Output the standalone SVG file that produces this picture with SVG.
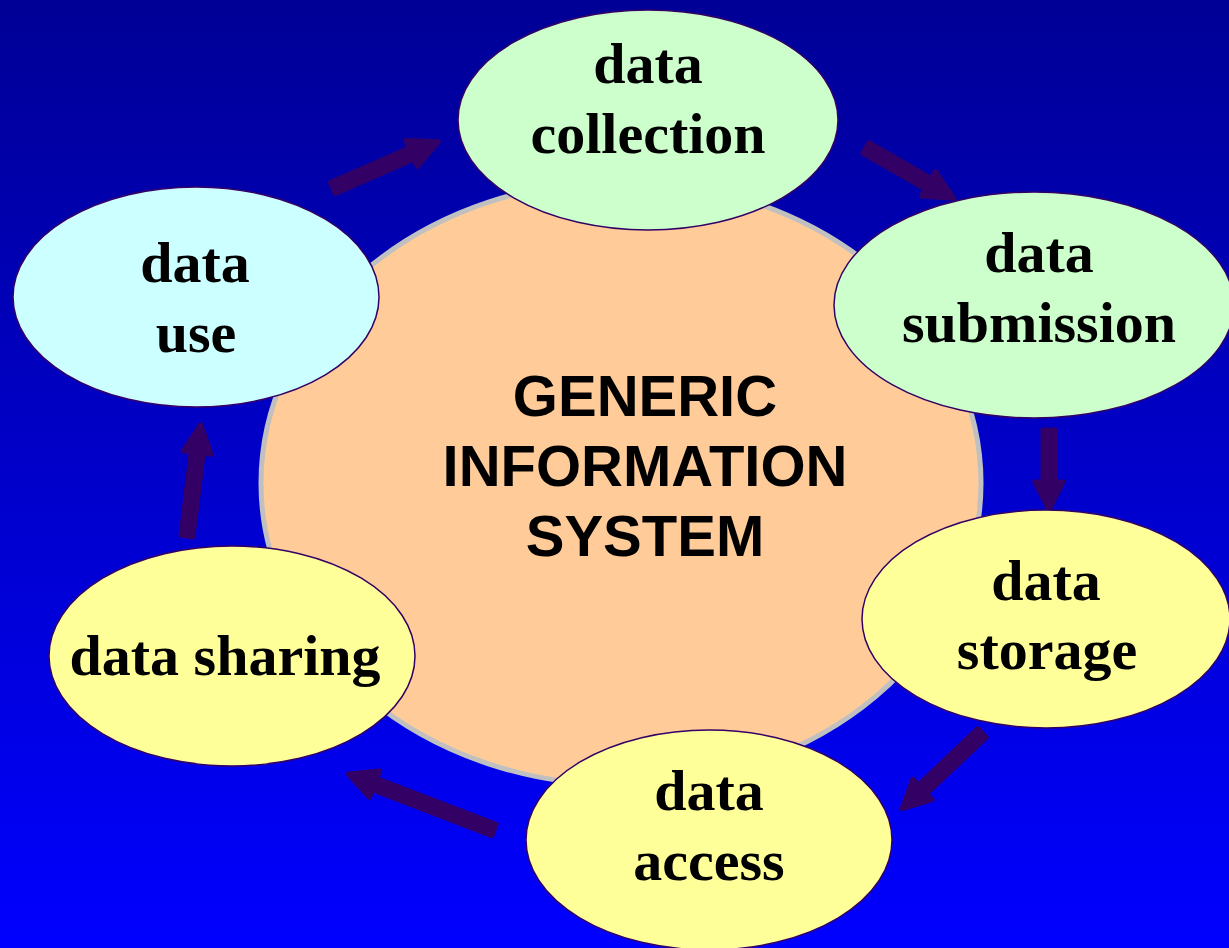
<svg xmlns="http://www.w3.org/2000/svg" width="1229" height="948" viewBox="0 0 1229 948">
  <defs>
    <linearGradient id="bg" x1="0" y1="0" x2="0" y2="1">
      <stop offset="0" stop-color="#000096"/>
      <stop offset="1" stop-color="#0000FF"/>
    </linearGradient>
    <style>
      .node { stroke: #330066; stroke-width: 1.5; }
      .green { fill: #CCFFCC; }
      .yellow { fill: #FFFF99; }
      .cyan { fill: #CCFFFF; }
      .lbl { font-family: "Liberation Serif", "Times New Roman", serif; font-weight: bold; font-size: 58px; fill: #000000; text-anchor: middle; }
      .title { font-family: "Liberation Sans", Arial, sans-serif; font-weight: bold; font-size: 58px; fill: #000000; text-anchor: middle; }
      .arrow { fill: #330066; stroke: #330066; stroke-width: 5; stroke-linejoin: round; }
    </style>
  </defs>

  <rect x="0" y="0" width="1229" height="948" fill="url(#bg)"/>

  <!-- central system -->
  <g id="system">
    <ellipse cx="621" cy="483" rx="360" ry="302" fill="#FFCC99" stroke="#C0C0C0" stroke-width="5"/>
    <text class="title" x="645" y="416">GENERIC</text>
    <text class="title" x="645" y="486">INFORMATION</text>
    <text class="title" x="645" y="556">SYSTEM</text>
  </g>

  <!-- cycle arrows: local frame has tail at x=0 and tip at x=L -->
  <g id="connectors">
    <path class="arrow" transform="translate(333,188) rotate(-23.7)" d="M0,-6 L86,-6 L86,-14 L115,0 L86,14 L86,6 L0,6 Z"/>
    <path class="arrow" transform="translate(866,148) rotate(29.8)" d="M0,-6 L72,-6 L72,-14 L101,0 L72,14 L72,6 L0,6 Z"/>
    <path class="arrow" transform="translate(1049,430) rotate(90)" d="M0,-6 L52,-6 L52,-14 L80,0 L52,14 L52,6 L0,6 Z"/>
    <path class="arrow" transform="translate(982,733) rotate(136.5)" d="M0,-6 L82,-6 L82,-14 L110,0 L82,14 L82,6 L0,6 Z"/>
    <path class="arrow" transform="translate(494,830) rotate(201)" d="M0,-6 L128,-6 L128,-14 L156,0 L128,14 L128,6 L0,6 Z"/>
    <path class="arrow" transform="translate(187,536) rotate(-83)" d="M0,-6 L84,-6 L84,-14 L112,0 L84,14 L84,6 L0,6 Z"/>
  </g>

  <g id="data-collection">
    <ellipse class="node green" cx="648" cy="120" rx="190" ry="110"/>
    <text class="lbl" x="648" y="83">data</text>
    <text class="lbl" x="648" y="153">collection</text>
  </g>

  <g id="data-submission">
    <ellipse class="node green" cx="1034" cy="305" rx="200" ry="113"/>
    <text class="lbl" x="1039" y="272">data</text>
    <text class="lbl" x="1039" y="342">submission</text>
  </g>

  <g id="data-storage">
    <ellipse class="node yellow" cx="1046" cy="619" rx="184" ry="109"/>
    <text class="lbl" x="1046" y="600">data</text>
    <text class="lbl" x="1047" y="669">storage</text>
  </g>

  <g id="data-access">
    <ellipse class="node yellow" cx="709" cy="840" rx="183" ry="110"/>
    <text class="lbl" x="709" y="810">data</text>
    <text class="lbl" x="709" y="880">access</text>
  </g>

  <g id="data-sharing">
    <ellipse class="node yellow" cx="232" cy="656" rx="183" ry="110"/>
    <text class="lbl" x="225" y="675">data sharing</text>
  </g>

  <g id="data-use">
    <ellipse class="node cyan" cx="196" cy="297" rx="183" ry="110"/>
    <text class="lbl" x="195" y="282">data</text>
    <text class="lbl" x="196" y="352">use</text>
  </g>
</svg>
